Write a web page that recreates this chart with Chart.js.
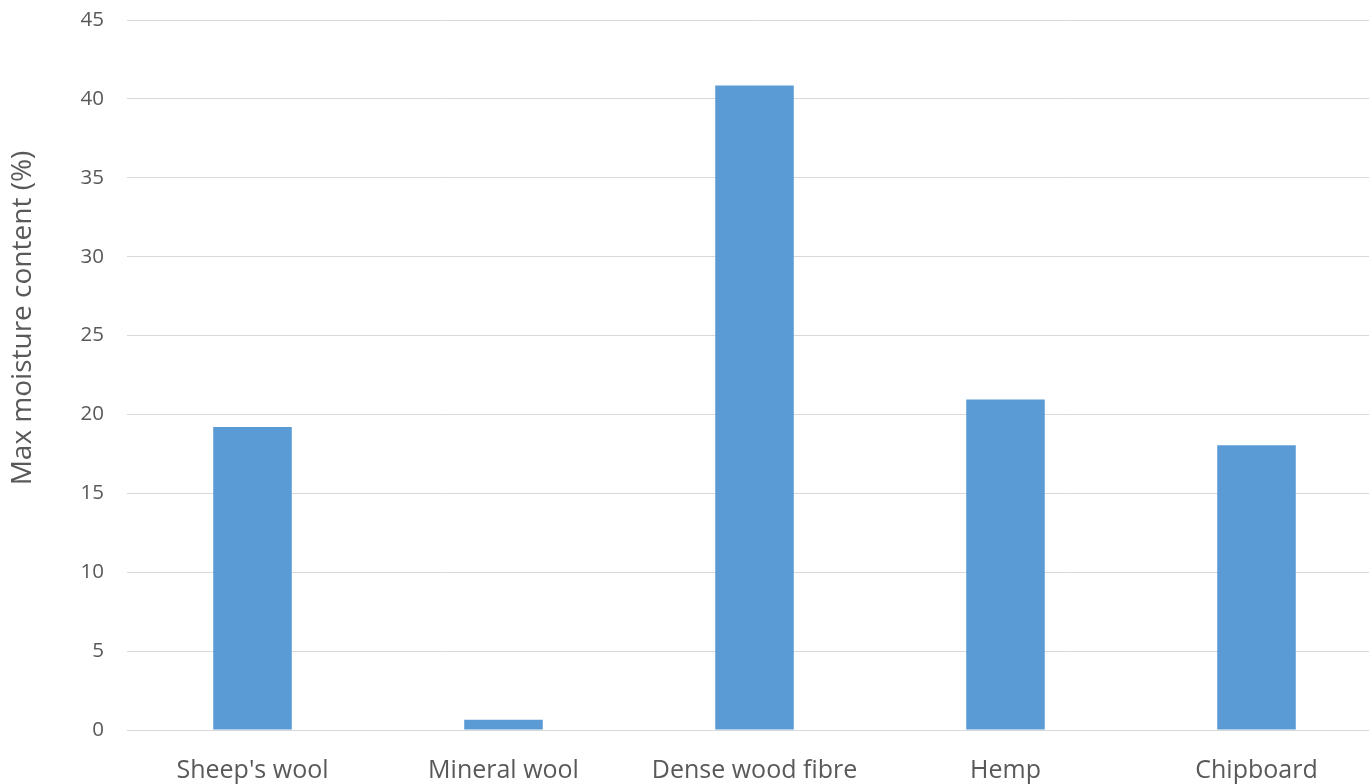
<!DOCTYPE html>
<html>
<head>
<meta charset="utf-8">
<script src="https://cdn.jsdelivr.net/npm/chart.js@4/dist/chart.umd.min.js"></script>
<style>
  html, body { margin: 0; padding: 0; background: #ffffff; overflow: hidden; }
  #wrap { width: 1382px; height: 784px; }
</style>
</head>
<body>
<div id="wrap"><canvas id="chart" width="1382" height="784"></canvas></div>
<script>
// Maximum moisture content by insulation / board material
const materials = ["Sheep's wool", "Mineral wool", "Dense wood fibre", "Hemp", "Chipboard"];
const maxMoisture = [19.2, 0.65, 40.85, 20.95, 18.05];
const yTicks = [0, 5, 10, 15, 20, 25, 30, 35, 40, 45];
const yTitle = 'Max moisture content (%)';

const textColor = '#595959';
const gridColor = '#d9d9d9';
const fontFamily = '"Open Sans", "Noto Sans", sans-serif';

// Vertical axis title, drawn rotated beside the value axis
const axisTitlePlugin = {
  id: 'axisTitle',
  afterDraw(chart) {
    const ctx = chart.ctx;
    ctx.save();
    ctx.translate(23, 318);
    ctx.rotate(-Math.PI / 2);
    ctx.fillStyle = textColor;
    ctx.font = '28px ' + fontFamily;
    ctx.textAlign = 'center';
    ctx.textBaseline = 'middle';
    ctx.fillText(yTitle, 0, 0);
    ctx.restore();
  }
};

new Chart(document.getElementById('chart'), {
  type: 'bar',
  data: {
    labels: materials,
    datasets: [{
      data: maxMoisture,
      backgroundColor: '#5b9bd5',
      borderWidth: 0,
      categoryPercentage: 1,
      barPercentage: 0.313
    }]
  },
  plugins: [axisTitlePlugin],
  options: {
    responsive: false,
    devicePixelRatio: 1,
    animation: false,
    layout: { padding: { top: 20, right: 0, bottom: 0, left: 0 } },
    plugins: {
      legend: { display: false },
      tooltip: { enabled: false }
    },
    scales: {
      x: {
        grid: { display: false, drawTicks: false },
        border: { display: true, color: gridColor, width: 1 },
        ticks: {
          color: textColor,
          font: { family: fontFamily, size: 25 },
          padding: 26,
          maxRotation: 0,
          autoSkip: false
        },
        afterFit(scale) {
          scale.height = 54;
          scale.paddingLeft = 0;
          scale.paddingRight = 0;
        }
      },
      y: {
        min: 0,
        max: 45,
        afterBuildTicks(scale) {
          scale.ticks = yTicks.map(v => ({ value: v }));
        },
        grid: { color: gridColor, lineWidth: 1, drawTicks: false },
        border: { display: false },
        ticks: {
          color: textColor,
          font: { family: fontFamily, size: 20.5 },
          padding: 23
        },
        afterFit(scale) {
          scale.width = 127;
          scale.paddingTop = 0;
          scale.paddingBottom = 0;
        }
      }
    }
  }
});
</script>
</body>
</html>
